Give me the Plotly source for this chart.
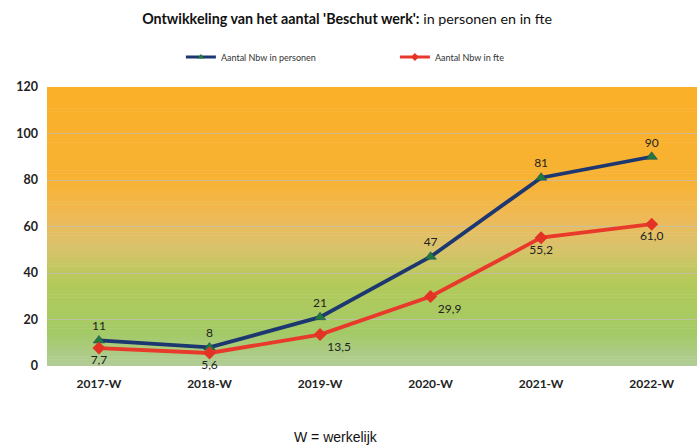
import plotly.graph_objects as go

categories = ["2017-W", "2018-W", "2019-W", "2020-W", "2021-W", "2022-W"]
personen = [11, 8, 21, 47, 81, 90]
fte = [7.7, 5.6, 13.5, 29.9, 55.2, 61.0]
personen_labels = ["11", "8", "21", "47", "81", "90"]
fte_labels = ["7,7", "5,6", "13,5", "29,9", "55,2", "61,0"]
y_ticks = [0, 20, 40, 60, 80, 100, 120]

FONT = "Lato"
NAVY = "#1d3770"
GREEN = "#1f7a3c"
RED = "#e8392b"

fig = go.Figure()

fig.add_trace(go.Scatter(
    x=categories, y=personen, name="Aantal Nbw in personen", showlegend=False,
    mode="lines+markers+text", text=personen_labels, textposition="top center",
    textfont=dict(family=FONT, size=12, color="#222222"), cliponaxis=False,
    line=dict(color=NAVY, width=3.8),
    marker=dict(symbol="triangle-up", size=10, color=GREEN,
                line=dict(color=NAVY, width=0.5)),
))
fig.add_trace(go.Scatter(
    x=categories, y=fte, name="Aantal Nbw in fte", showlegend=False,
    mode="lines+markers+text", text=fte_labels,
    textposition=["bottom center", "bottom center", "bottom right",
                  "bottom right", "bottom center", "bottom center"],
    textfont=dict(family=FONT, size=12, color="#222222"), cliponaxis=False,
    line=dict(color=RED, width=3.8),
    marker=dict(symbol="diamond", size=10, color="#e23324"),
))
# legend entries (smaller symbols, as in the reference legend)
fig.add_trace(go.Scatter(
    x=[None], y=[None], name="Aantal Nbw in personen", mode="lines+markers",
    line=dict(color=NAVY, width=3), marker=dict(symbol="triangle-up", size=6, color=GREEN),
))
fig.add_trace(go.Scatter(
    x=[None], y=[None], name="Aantal Nbw in fte", mode="lines+markers",
    line=dict(color=RED, width=3), marker=dict(symbol="diamond", size=6, color="#e23324"),
))

# Gradient background (style only): bands in paper coordinates
stops = [
    (0.00, (178, 204, 152)),
    (0.12, (163, 202, 102)),
    (0.30, (180, 202, 90)),
    (0.43, (218, 194, 108)),
    (0.53, (238, 186, 88)),
    (0.66, (248, 178, 52)),
    (1.00, (250, 176, 40)),
]

def col_at(t):
    for (t0, c0), (t1, c1) in zip(stops[:-1], stops[1:]):
        if t0 <= t <= t1:
            f = (t - t0) / (t1 - t0) if t1 > t0 else 0
            return tuple(int(round(c0[i] + (c1[i] - c0[i]) * f)) for i in range(3))
    return stops[-1][1]

n = 90
shapes = []
for i in range(n):
    y0 = i / n
    y1 = (i + 1) / n
    c = col_at((y0 + y1) / 2)
    shapes.append(dict(type="rect", xref="paper", yref="paper", x0=0, x1=1,
                       y0=y0, y1=min(1, y1 + 0.002), fillcolor="rgb(%d,%d,%d)" % c,
                       line=dict(width=0), layer="below"))

fig.update_layout(
    width=697, height=445,
    margin=dict(l=47, r=0, t=87, b=79),
    paper_bgcolor="white",
    plot_bgcolor="rgba(0,0,0,0)",
    shapes=shapes,
    font=dict(family=FONT, color="#222222"),
    title=dict(
        text="<b>Ontwikkeling van het aantal 'Beschut werk':</b> in personen en in fte",
        x=0.498, xanchor="center", y=0.958, yanchor="middle",
        font=dict(family=FONT, size=14.3, color="#111111"),
    ),
    showlegend=True,
    legend=dict(
        orientation="h", x=0.206, xanchor="left", y=1.1075, yanchor="middle",
        font=dict(family=FONT, size=9, color="#333333"),
        entrywidth=169, entrywidthmode="pixels", itemwidth=30,
        bgcolor="rgba(0,0,0,0)",
    ),
    xaxis=dict(
        type="category", range=[-0.47, 5.41], showgrid=False, zeroline=False,
        showline=False, ticks="", ticklabelstandoff=9,
        tickfont=dict(family=FONT, size=12, color="#222222", weight="bold"),
    ),
    yaxis=dict(
        range=[0, 120], tickvals=y_ticks, showgrid=True,
        gridcolor="rgba(195,190,180,0.75)", gridwidth=1, zeroline=False,
        showline=False, ticks="", ticklabelstandoff=8,
        tickfont=dict(family=FONT, size=12.5, color="#222222", weight="bold"),
    ),
    annotations=[dict(
        text="W = werkelijk", xref="paper", yref="paper", x=0.445, y=-0.254,
        xanchor="center", yanchor="middle", showarrow=False,
        font=dict(family="Liberation Sans", size=14, color="#111111"),
    )],
)

fig.write_html("out.html", config={"displayModeBar": False},
               post_script="document.body.style.margin='0';document.body.style.overflow='hidden';")
